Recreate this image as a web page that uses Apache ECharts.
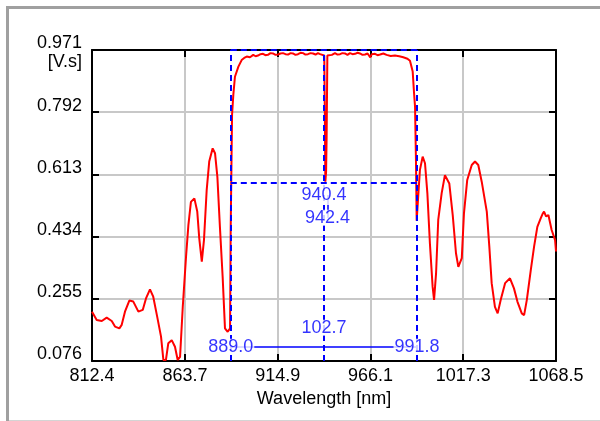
<!DOCTYPE html>
<html><head><meta charset="utf-8">
<script src="https://cdn.jsdelivr.net/npm/echarts@6/dist/echarts.min.js"></script>
<style>html,body{margin:0;padding:0;background:#fff;overflow:hidden}#c{width:600px;height:421px}</style>
</head><body><div id="c"></div>
<script>
const wavelength = [812.4,815.0,817.8,820.5,823.3,825.1,827.5,828.8,830.6,833.0,835.2,838.0,840.4,842.2,844.4,846.2,848.4,850.5,851.8,853.2,854.5,856.4,858.2,859.7,861.0,862.5,864.3,865.6,867.0,868.9,870.5,871.6,873.0,874.2,875.7,877.1,879.0,880.3,881.6,883.0,884.5,885.8,887.3,888.6,888.95,889.7,890.4,891.3,893.2,895.0,896.4,897.8,899.6,901.4,902.7,904.0,905.4,906.8,908.1,909.5,910.9,912.3,913.7,915.1,916.4,917.8,919.2,920.6,922.0,923.3,924.7,926.1,927.5,928.9,930.2,931.6,933.0,934.4,935.8,937.1,938.3,939.4,940.6,940.9,941.2,941.6,941.9,942.3,943.2,944.8,946.5,947.9,949.3,950.6,952.0,953.4,954.8,956.2,957.6,959.0,960.3,961.7,963.1,964.5,966.0,966.8,968.6,970.0,971.4,973.2,975.0,977.3,979.6,982.0,984.2,986.5,987.9,989.4,990.1,990.7,991.2,991.6,992.5,993.4,994.9,996.2,997.5,998.9,1000.4,1001.2,1002.3,1003.5,1005.4,1007.2,1008.2,1009.6,1011.5,1013.3,1014.6,1016.5,1017.7,1019.5,1022.0,1023.8,1025.6,1027.5,1030.3,1031.7,1033.0,1034.8,1036.3,1038.0,1040.4,1043.1,1045.3,1047.2,1049.6,1050.9,1052.4,1054.6,1056.4,1058.2,1060.1,1061.0,1061.9,1063.0,1064.3,1066.1,1068.0,1068.5];
const signal = [0.218,0.194,0.191,0.201,0.191,0.175,0.170,0.180,0.218,0.250,0.247,0.218,0.223,0.256,0.282,0.261,0.203,0.146,0.079,0.079,0.127,0.136,0.117,0.079,0.088,0.232,0.376,0.467,0.534,0.544,0.506,0.429,0.362,0.424,0.568,0.650,0.688,0.674,0.606,0.462,0.319,0.170,0.160,0.170,0.458,0.784,0.842,0.894,0.923,0.942,0.948,0.952,0.950,0.957,0.953,0.955,0.959,0.960,0.956,0.957,0.962,0.961,0.957,0.958,0.961,0.962,0.959,0.958,0.962,0.961,0.957,0.959,0.963,0.962,0.958,0.959,0.962,0.961,0.958,0.962,0.959,0.960,0.955,0.800,0.592,0.620,0.720,0.955,0.960,0.957,0.962,0.958,0.959,0.962,0.961,0.957,0.962,0.959,0.960,0.963,0.961,0.957,0.958,0.961,0.950,0.959,0.960,0.956,0.958,0.961,0.957,0.954,0.955,0.953,0.950,0.946,0.940,0.909,0.851,0.808,0.655,0.480,0.554,0.626,0.664,0.645,0.559,0.415,0.290,0.252,0.328,0.482,0.559,0.611,0.616,0.587,0.496,0.386,0.347,0.372,0.501,0.597,0.640,0.650,0.640,0.592,0.506,0.405,0.300,0.232,0.213,0.252,0.300,0.314,0.285,0.247,0.213,0.208,0.252,0.338,0.405,0.462,0.487,0.498,0.506,0.492,0.496,0.453,0.424,0.391];
const xTicks = [812.4, 863.7, 914.9, 966.1, 1017.3, 1068.5];
const yTicks = [0.076, 0.255, 0.434, 0.613, 0.792, 0.971];
const cursors = [889.0, 991.8];
const centerMark = [940.4, 942.4];
const bandWidth = [102.7];
const levels = [0.971, 0.588, 0.117];
const xName = 'Wavelength [nm]';
const yUnit = '[V.s]';

const FONT = 'Liberation Sans, Arial, sans-serif';
const BLUE = '#0000ff';
const xMin = xTicks[0], xMax = xTicks[xTicks.length - 1];
const yMin = yTicks[0], yMax = yTicks[yTicks.length - 1];
const [cL, cR] = cursors;
const [cC, cD] = centerMark;
const [lvTop, lvMid, lvBase] = levels;

const chart = echarts.init(document.getElementById('c'), null, {renderer: 'canvas'});
const tickStyle = {show: true, inside: true, length: 7, lineStyle: {color: '#000', width: 2}};
const axisLineStyle = {show: true, lineStyle: {color: '#000', width: 2}};
const labelStyle = {color: '#000', fontSize: 18, fontFamily: FONT};

function blueLabel(x, y, text, pad) {
  return {value: [x, y], name: text, label: {padding: pad || [0, 1, 0, 1]}};
}

chart.setOption({
  animation: false,
  backgroundColor: '#fff',
  grid: {left: 92, right: 44, top: 50, bottom: 60, containLabel: false, outerBoundsMode: 'none'},
  xAxis: [{
    type: 'value', min: xMin, max: xMax, position: 'bottom',
    axisLine: axisLineStyle,
    axisTick: Object.assign({customValues: xTicks}, tickStyle),
    axisLabel: Object.assign({customValues: xTicks, formatter: v => v.toFixed(1), margin: 6, lineHeight: 18}, labelStyle),
    splitLine: {show: true, lineStyle: {color: '#c8c8c8', width: 2}},
    name: xName, nameLocation: 'middle', nameGap: 29,
    nameTextStyle: Object.assign({lineHeight: 18}, labelStyle)
  }, {
    type: 'value', min: xMin, max: xMax, position: 'top',
    axisLine: axisLineStyle,
    axisTick: Object.assign({customValues: xTicks}, tickStyle),
    axisLabel: {show: false},
    splitLine: {show: false}
  }],
  yAxis: [{
    type: 'value', min: yMin, max: yMax, position: 'left',
    axisLine: axisLineStyle,
    axisTick: Object.assign({customValues: yTicks}, tickStyle),
    axisLabel: Object.assign({customValues: yTicks, formatter: v => v.toFixed(3), margin: 10, verticalAlign: 'bottom', lineHeight: 13}, labelStyle),
    splitLine: {show: true, lineStyle: {color: '#c8c8c8', width: 2}}
  }, {
    type: 'value', min: yMin, max: yMax, position: 'right',
    axisLine: axisLineStyle,
    axisTick: Object.assign({customValues: yTicks}, tickStyle),
    axisLabel: {show: false},
    splitLine: {show: false}
  }],
  graphic: [
    {type: 'rect', shape: {x: 6, y: 6, width: 3, height: 415}, style: {fill: '#a0a0a0'}, silent: true},
    {type: 'rect', shape: {x: 6, y: 6, width: 594, height: 3}, style: {fill: '#a0a0a0'}, silent: true},
    {type: 'rect', shape: {x: 9, y: 420, width: 591, height: 1}, style: {fill: '#d4d4d4'}, silent: true},
    {type: 'text', x: 82, y: 53, style: {text: yUnit, fill: '#000', font: '18px ' + FONT, textAlign: 'right', textVerticalAlign: 'top'}, silent: true}
  ],
  series: [{
    name: 'signal', type: 'line', z: 3,
    data: wavelength.map((w, i) => [w, signal[i]]),
    showSymbol: false, symbol: 'none',
    lineStyle: {color: '#ff0000', width: 2},
    silent: true
  }, {
    name: 'cursors', type: 'line', z: 4, data: [], silent: true,
    markLine: {
      silent: true, symbol: ['none', 'none'], animation: false,
      label: {show: false},
      lineStyle: {color: BLUE, type: [6, 4], width: 2},
      data: [
        [{coord: [cL, yMin]}, {coord: [cL, yMax]}],
        [{coord: [cR, yMin]}, {coord: [cR, yMax]}],
        [{coord: [cC, yMin]}, {coord: [cC, yMax]}],
        [{coord: [cL, lvTop]}, {coord: [cR, lvTop]}],
        [{coord: [cL, lvMid]}, {coord: [cR, lvMid]}],
        [{coord: [cL, lvBase], lineStyle: {type: 'solid', width: 1.5}}, {coord: [cR, lvBase]}],
        [{coord: [cD, 0.488], lineStyle: {type: 'solid', width: 1.5}}, {coord: [cD, 0.554]}]
      ]
    }
  }, {
    name: 'labels', type: 'scatter', z: 10, symbolSize: 0, silent: true,
    label: {
      show: true, position: 'inside', formatter: p => p.name,
      color: BLUE, fontSize: 18, fontFamily: FONT, lineHeight: 16,
      backgroundColor: '#fff'
    },
    data: [
      blueLabel(cL, lvBase, cL.toFixed(1)),
      blueLabel(cR, lvBase, cR.toFixed(1)),
      blueLabel(cC, 0.172, bandWidth[0].toFixed(1)),
      blueLabel(cC, 0.554, cC.toFixed(1), [4, 1, 0, 1]),
      blueLabel(cD, 0.488, cD.toFixed(1))
    ]
  }]
});
</script></body></html>
